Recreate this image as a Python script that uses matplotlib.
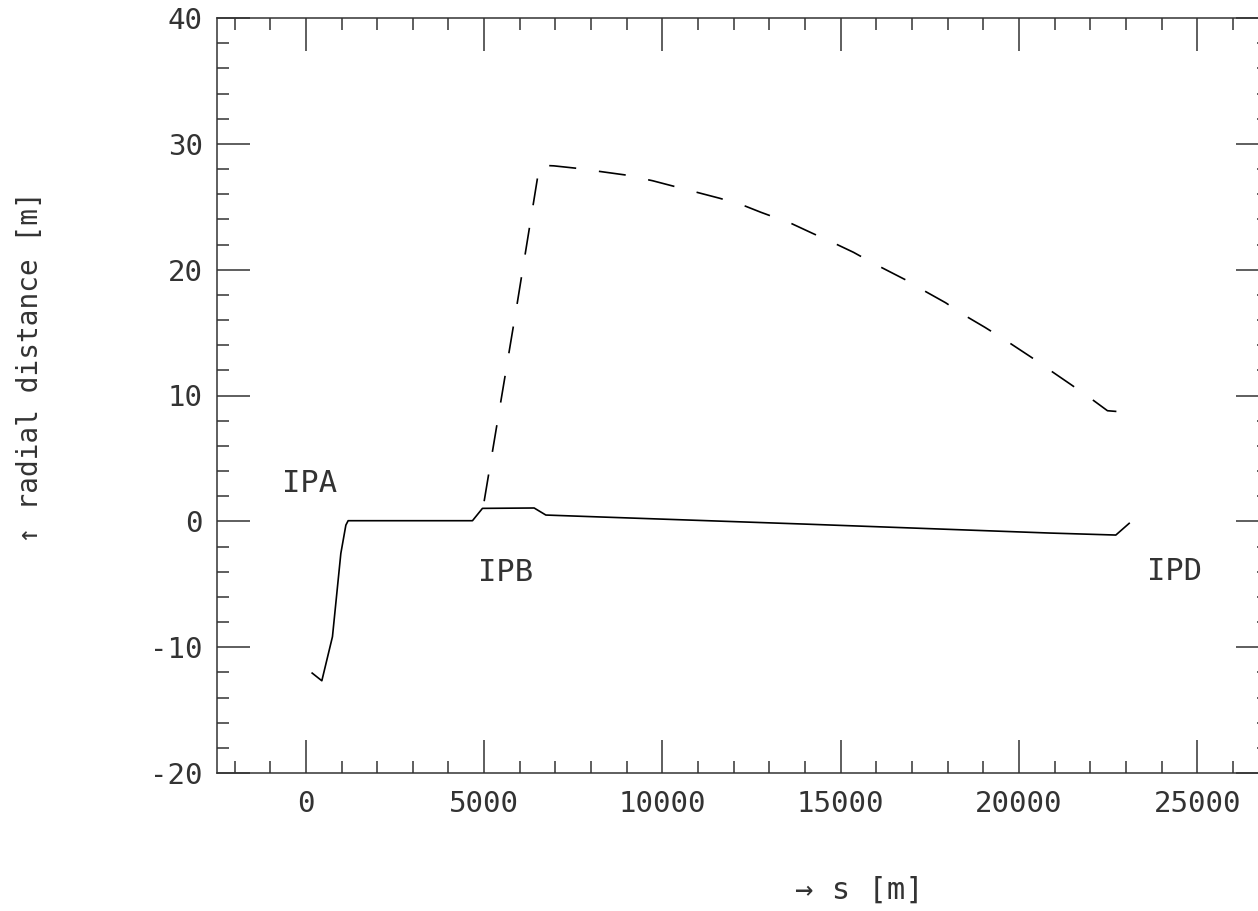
import matplotlib
matplotlib.use("Agg")
import matplotlib.pyplot as plt
from matplotlib.ticker import MultipleLocator

plt.rcParams['font.family'] = ['DejaVu Sans Mono', 'DejaVu Sans']
plt.rcParams['lines.scale_dashes'] = False

# solid curve (s [m], radial distance [m])
solid_s = [177, 448, 746, 981, 1122, 1186, 2800, 4672, 4952, 6402, 6730, 8225,
           14000, 20852, 22713, 23087]
solid_r = [-12.06, -12.67, -9.17, -2.55, -0.30, 0.05, 0.05, 0.05, 1.03, 1.06, 0.50, 0.35,
           -0.22, -0.93, -1.09, -0.16]

# dashed curve
dash_s = [5000, 5934, 6494, 6560, 6955, 7616, 8974, 9720, 11610, 12243, 12760, 13348,
          13629, 14206, 14767, 15356, 15917, 16826, 17386, 17941, 18460, 19041,
          19582, 20348, 20892, 21433, 21946, 22479, 23051]
dash_r = [1.6, 17.45, 27.26, 28.3, 28.25, 28.05, 27.52, 27.07, 25.67, 25.14, 24.56, 23.95,
          23.65, 22.89, 22.17, 21.38, 20.50, 19.18, 18.25, 17.37, 16.39, 15.42,
          14.46, 13.03, 11.96, 10.91, 9.90, 8.79, 8.66]

labels = ["IPA", "IPB", "IPD"]
label_s = [100, 5608, 24350]
label_r = [3.0, -4.1, -4.0]

xticks = [0, 5000, 10000, 15000, 20000, 25000]
yticks = [-20, -10, 0, 10, 20, 30, 40]

W, H = 1258, 911
fig = plt.figure(figsize=(W / 100, H / 100), dpi=100)
left, right, top, bottom = 216.7, 1268.7, 18, 773
ax = fig.add_axes([left / W, 1 - bottom / H, (right - left) / W, (bottom - top) / H])

col = '#333333'
ax.plot(solid_s, solid_r, color='black', lw=1.2)
ax.plot(dash_s, dash_r, color='black', lw=1.2, dashes=(19.5, 16.5))

for t, s, r in zip(labels, label_s, label_r):
    ax.text(s, r, t, ha='center', va='center', fontsize=22, color=col)

ax.set_xlim(-2500, 27000)
ax.set_ylim(-20, 40)
ax.set_xticks(xticks)
ax.set_yticks(yticks)
ax.set_xticklabels([str(v) for v in xticks])
ax.set_yticklabels([str(v) for v in yticks])
ax.xaxis.set_minor_locator(MultipleLocator(1000))
ax.yaxis.set_minor_locator(MultipleLocator(2))

ax.tick_params(which='both', direction='in', top=True, right=True, colors=col,
               width=1.1)
ax.tick_params(which='major', length=23.8, labelsize=21, labelcolor=col)
ax.tick_params(axis='x', which='major', pad=12)
ax.tick_params(axis='y', which='major', pad=10)
ax.tick_params(which='minor', length=8.6)
for sp in ax.spines.values():
    sp.set_color(col)
    sp.set_linewidth(1.1)

ax.text(0.611, -0.155, "\u2192 s [m]", transform=ax.transAxes, ha='center',
        va='center', fontsize=22, color=col)
ax.text(-0.1775, 0.538, "\u2191 radial distance [m]", transform=ax.transAxes,
        ha='center', va='center', rotation=90, fontsize=20, color=col)

fig.savefig("out.png", dpi=100)
